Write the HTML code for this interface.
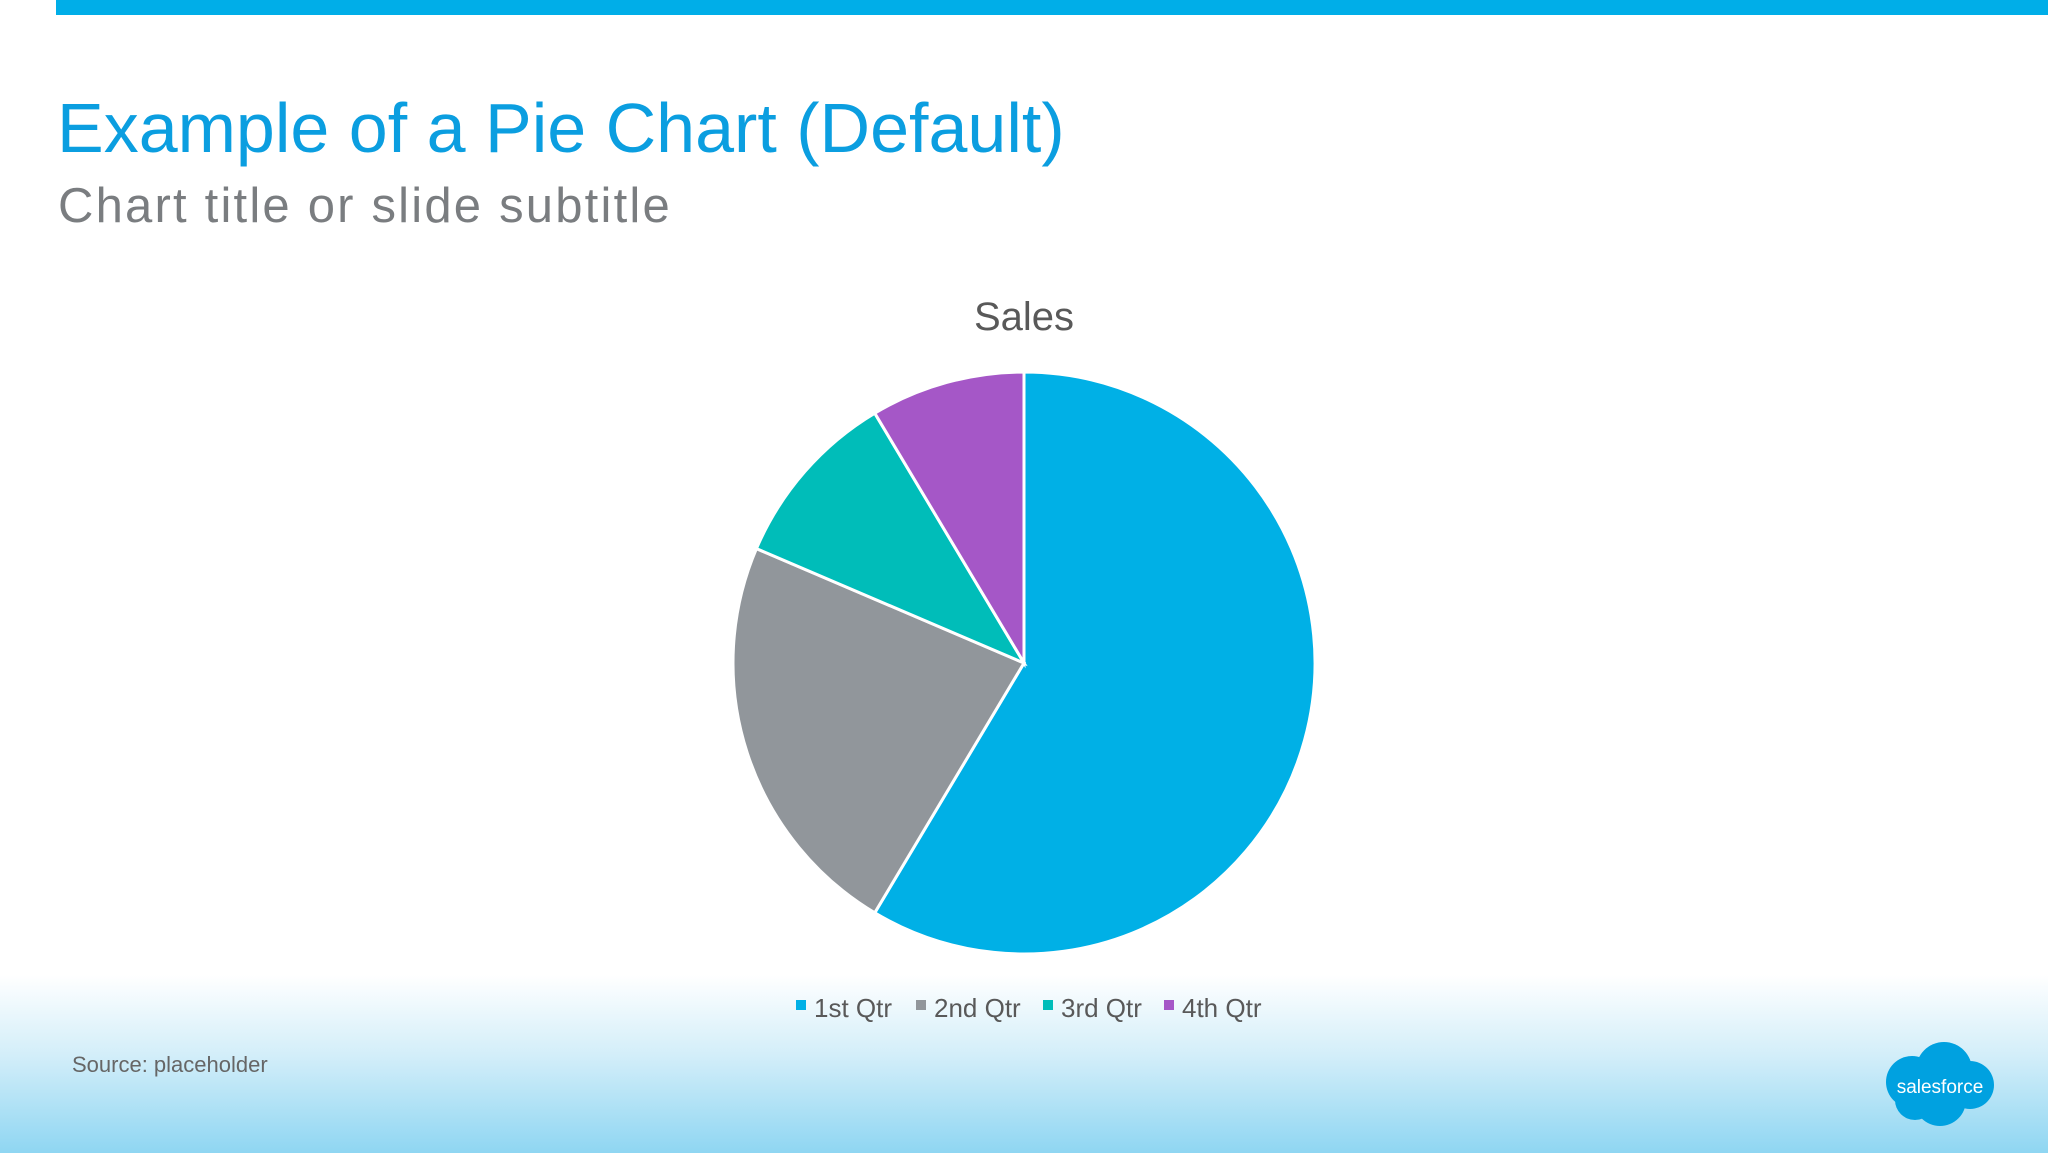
<!DOCTYPE html>
<html><head><meta charset="utf-8">
<style>
html,body{margin:0;padding:0;}
body{width:2048px;height:1153px;position:relative;overflow:hidden;background:#fff;font-family:"Liberation Sans",sans-serif;}
#topbar{position:absolute;left:56px;top:0;width:1992px;height:15px;background:#00aee8;}
#bottomgrad{position:absolute;left:0;top:975px;width:2048px;height:178px;background:linear-gradient(to bottom,rgba(255,255,255,1) 0%,#d3eef9 45%,#8fd6f2 100%);}
#title{position:absolute;left:57px;top:88px;font-size:70px;color:#0b9ee0;white-space:nowrap;}
#subtitle{position:absolute;left:58px;top:178px;font-size:49px;color:#7a7d80;white-space:nowrap;letter-spacing:2.2px;}
#source{position:absolute;left:72px;top:1052px;font-size:22px;color:#666;}
svg{position:absolute;left:0;top:0;}
</style></head>
<body>
<div id="topbar"></div>
<div id="bottomgrad"></div>
<div id="title">Example of a Pie Chart (Default)</div>
<div id="subtitle">Chart title or slide subtitle</div>
<div id="source">Source: placeholder</div>
<svg id="chart" width="2048" height="1153">
<text x="1024" y="330" text-anchor="middle" font-size="40" fill="#595959" font-family="Liberation Sans, sans-serif">Sales</text>
<g id="slices"></g>
<g id="legend"></g>
<g>
<g fill="#00a1e0">
<circle cx="1912" cy="1082" r="26"/><circle cx="1944" cy="1070" r="28"/><circle cx="1970" cy="1085" r="24"/><circle cx="1940" cy="1100" r="26"/><circle cx="1915" cy="1100" r="20"/>
</g>
<text x="1940" y="1093" text-anchor="middle" font-size="19" fill="#fff" font-family="Liberation Sans, sans-serif">salesforce</text>
</g>
</svg>
<script>
const categories=["1st Qtr","2nd Qtr","3rd Qtr","4th Qtr"];
const values=[8.2,3.2,1.4,1.2];
const colors=["#00b0e6","#91969b","#00bdb9","#a557c7"];
const cx=1024,cy=663,r=291;
const ns="http://www.w3.org/2000/svg";
const total=values.reduce((a,b)=>a+b,0);
const g=document.getElementById('slices');
let a0=0;
function pt(a){return [cx+r*Math.sin(a),cy-r*Math.cos(a)];}
values.forEach((v,i)=>{
  const a1=a0+v/total*2*Math.PI;
  const p0=pt(a0),p1=pt(a1);
  const large=(a1-a0)>Math.PI?1:0;
  const p=document.createElementNS(ns,'path');
  p.setAttribute('d',`M${cx},${cy} L${p0[0]},${p0[1]} A${r},${r} 0 ${large} 1 ${p1[0]},${p1[1]} Z`);
  p.setAttribute('fill',colors[i]);
  p.setAttribute('stroke','#fff');
  p.setAttribute('stroke-width','3');
  
  
  g.appendChild(p);
  a0=a1;
});
const lg=document.getElementById('legend');
const lx=[796,916,1043,1164];
categories.forEach((c,i)=>{
  const grp=document.createElementNS(ns,'g');
  
  
  const s=document.createElementNS(ns,'rect');
  s.setAttribute('x',lx[i]);s.setAttribute('y',1000);s.setAttribute('width',10);s.setAttribute('height',10);
  s.setAttribute('fill',colors[i]);
  const t=document.createElementNS(ns,'text');
  t.setAttribute('x',lx[i]+18);t.setAttribute('y',1017);
  t.setAttribute('font-size','26');t.setAttribute('fill','#595959');
  t.setAttribute('font-family','Liberation Sans, sans-serif');
  t.textContent=c;
  grp.appendChild(s);grp.appendChild(t);lg.appendChild(grp);
});
</script>
</body></html>
